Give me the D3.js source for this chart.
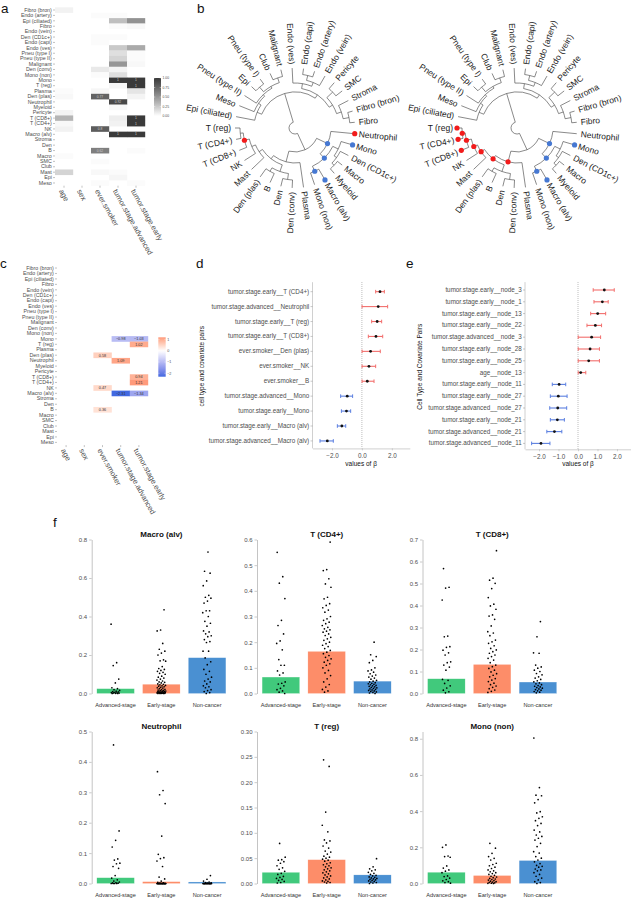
<!DOCTYPE html>
<html>
<head>
<meta charset="utf-8">
<script src="https://cdn.jsdelivr.net/npm/d3@7/dist/d3.min.js"></script>
<style>
  html,body{margin:0;padding:0;background:#fff;}
  svg text{font-family:"Liberation Sans",Arial,Helvetica,sans-serif;}
</style>
</head>
<body>
<svg id="fig" width="631" height="899" xmlns="http://www.w3.org/2000/svg"></svg>
<script>
// ================= DATA =================
const cellTypes = ["Fibro (bron)","Endo (artery)","Epi (ciliated)","Fibro","Endo (vein)","Den (CD1c+)","Endo (capi)","Endo (ves)","Pneu (type I)","Pneu (type II)","Malignant","Den (conv)","Mono (non)","Mono","T (reg)","Plasma","Den (plas)","Neutrophil","Myeloid","Pericyte","T (CD8+)","T (CD4+)","NK","Macro (alv)","Stroma","Den","B","Macro","SMC","Club","Mast","Epi","Meso"];
const covariates = ["age","sex","ever.smoker","tumor.stage.advanced","tumor.stage.early"];

// panel a: inclusion probabilities per covariate (one value per cell type, in cellTypes order)
const pipAge      = [0.06,0,0,0,0,0,0,0,0,0,0,0,0,0,0,0.02,0.03,0,0,0.05,0.35,0.03,0.06,0,0,0,0,0.02,0,0,0.2,0,0];
const pipSex      = [0,0,0,0,0,0,0,0,0,0,0,0,0,0,0,0,0,0,0,0,0,0,0,0,0,0,0,0,0,0,0,0,0];
const pipSmoker   = [0,0.02,0,0,0,0.02,0.02,0,0,0,0,0.1,0.02,0,0,0.04,0.77,0,0,0,0,0,0.8,0,0,0,0.62,0,0.02,0,0.03,0,0.02];
const pipAdvanced = [0,0.02,0.3,0.02,0,0.02,0,0.25,0.15,0.2,0.5,0.05,0.15,1,0.04,0,0,0.92,0.03,0,0.08,0.06,0,1,0,0,0,0,0,0,0.02,0.04,0];
const pipEarly    = [0,0,0.52,0.03,0,0,0,0.4,0.02,0.02,0.03,0,0,1,1,0.12,0.05,0,0,0,1,1,0,1,0,0,0.02,0,0,0,0,0,0.02];
const pipTicks = [0,0.25,0.5,0.75,1];

// panel c: significant effects [cell type, covariate, beta]
const betaCells = [
  ["Mono","tumor.stage.advanced",-0.98],["Mono","tumor.stage.early",-1.03],
  ["T (reg)","tumor.stage.early",1.02],["Den (plas)","ever.smoker",0.58],
  ["Neutrophil","tumor.stage.advanced",1.09],["T (CD8+)","tumor.stage.early",0.94],
  ["T (CD4+)","tumor.stage.early",1.21],["NK","ever.smoker",0.47],
  ["Macro (alv)","tumor.stage.advanced",-2.31],["Macro (alv)","tumor.stage.early",-1.34],
  ["B","ever.smoker",0.36]];
const betaTicks = [-2,-1,0,1];

// panel d
const dLabels = ["tumor.stage.early__T (CD4+)","tumor.stage.advanced__Neutrophil","tumor.stage.early__T (reg)","tumor.stage.early__T (CD8+)","ever.smoker__Den (plas)","ever.smoker__NK","ever.smoker__B","tumor.stage.advanced__Mono","tumor.stage.early__Mono","tumor.stage.early__Macro (alv)","tumor.stage.advanced__Macro (alv)"];
const dEst  = [1.21,1.09,1.02,0.94,0.58,0.47,0.36,-0.98,-1.03,-1.34,-2.31];
const dLow  = [0.92,0.01,0.65,0.43,0.01,0.01,0.01,-1.42,-1.37,-1.64,-2.8];
const dHigh = [1.5,1.72,1.32,1.39,1.23,0.92,0.81,-0.62,-0.75,-1.08,-1.91];
const dTicks = [-2,0,2];

// panel e
const eLabels = ["tumor.stage.early__node_3","tumor.stage.early__node_1","tumor.stage.early__node_13","tumor.stage.early__node_22","tumor.stage.advanced__node_3","tumor.stage.early__node_28","tumor.stage.early__node_25","age__node_13","tumor.stage.early__node_11","tumor.stage.early__node_27","tumor.stage.advanced__node_27","tumor.stage.early__node_21","tumor.stage.advanced__node_21","tumor.stage.advanced__node_11"];
const eEst  = [1.35,1.25,1.01,0.89,0.70,0.62,0.55,0.14,-0.97,-1.01,-1.04,-1.06,-1.21,-1.9];
const eLow  = [0.78,0.82,0.65,0.46,0.01,0.01,0.01,0.01,-1.32,-1.42,-1.45,-1.42,-1.6,-2.38];
const eHigh = [1.86,1.55,1.42,1.21,1.16,1.1,1.1,0.4,-0.63,-0.56,-0.58,-0.7,-0.83,-1.44];
const eTicks = [-2,-1,0,1,2];

// panel b: dendrogram (h = merge height, tips = 0)
const treeData = {name:"root", h:1.0, children:[
  {name:"immune", h:0.667, children:[
    {name:"nP", h:0.444, children:[
      {name:"Neutrophil"},
      {name:"nQ", h:0.333, children:[
        {name:"nZ", h:0.222, children:[
          {name:"Mono"},
          {name:"nZ2", h:0.167, children:[
            {name:"Den (CD1c+)"},
            {name:"nZ3", h:0.111, children:[{name:"Macro"},{name:"Myeloid"}]}]}]},
        {name:"nR", h:0.231, children:[{name:"Macro (alv)"},{name:"Mono (non)"}]}]}]},
    {name:"nA", h:0.463, children:[
      {name:"Plasma"},
      {name:"nB", h:0.389, children:[
        {name:"nY", h:0.259, children:[
          {name:"nY1", h:0.148, children:[{name:"Den (conv)"},{name:"Den"}]},
          {name:"nY2", h:0.185, children:[{name:"B"},{name:"Den (plas)"}]}]},
        {name:"nC", h:0.315, children:[
          {name:"Mast"},
          {name:"nD", h:0.241, children:[
            {name:"NK"},
            {name:"nE", h:0.148, children:[
              {name:"T (CD8+)"},
              {name:"nF", h:0.093, children:[{name:"T (CD4+)"},{name:"T (reg)"}]}]}]}]}]}]}]},
  {name:"nonimmune", h:0.444, children:[
    {name:"epi", h:0.352, children:[
      {name:"Epi (ciliated)"},
      {name:"nEG1", h:0.296, children:[
        {name:"Meso"},
        {name:"nEG2", h:0.259, children:[
          {name:"Pneu (type II)"},
          {name:"nEG3", h:0.222, children:[
            {name:"nEG4", h:0.111, children:[{name:"Epi"},{name:"Pneu (type I)"}]},
            {name:"nEG5", h:0.13, children:[{name:"Club"},{name:"Malignant"}]}]}]}]}]},
    {name:"endostroma", h:0.37, children:[
      {name:"nEndo", h:0.278, children:[
        {name:"Endo (ves)"},
        {name:"nEN1", h:0.204, children:[
          {name:"nEN2", h:0.111, children:[{name:"Endo (capi)"},{name:"Endo (artery)"}]},
          {name:"Endo (vein)"}]}]},
      {name:"nStrom", h:0.296, children:[
        {name:"nST1", h:0.148, children:[{name:"Pericyte"},{name:"SMC"}]},
        {name:"nST2", h:0.204, children:[
          {name:"Stroma"},
          {name:"nST3", h:0.093, children:[{name:"Fibro (bron)"},{name:"Fibro"}]}]}]}]}]}]};
const leftRedNodes   = ["Neutrophil","nE"];
const leftBlueNodes  = ["nP","Mono","nQ","nR","Macro (alv)"];
const rightRedNodes  = ["T (reg)","T (CD4+)","T (CD8+)","nF","nE","nD","nC","nB","nA"];
const rightBlueNodes = ["nP","Mono","nQ","nR","Macro (alv)"];

// panel f
const fGroups = ["Advanced-stage","Early-stage","Non-cancer"];
const fTitles = ["Macro (alv)","T (CD4+)","T (CD8+)","Neutrophil","T (reg)","Mono (non)"];
const fYMax  = [0.8,0.6,0.7,0.5,0.3,0.84];
const fYStep = [0.2,0.1,0.1,0.1,0.05,0.2];
const fMeans = [[0.025,0.048,0.186],[0.064,0.164,0.048],[0.067,0.132,0.052],[0.019,0.006,0.005],[0.022,0.047,0.017],[0.062,0.044,0.127]];
const ptsMacroAlv = [
  [0.36,0.16,0.145,0.075,0.055,0.03,0.025,0.02,0.016,0.012,0.01,0.008,0.006,0.005,0.004,0.003,0.002,0.001,0,0],
  [0.435,0.33,0.325,0.26,0.23,0.22,0.21,0.2,0.175,0.17,0.168,0.14,0.13,0.125,0.12,0.115,0.11,0.105,0.1,0.09,0.085,0.08,0.075,0.07,0.065,0.06,0.058,0.055,0.05,0.048,0.045,0.042,0.04,0.038,0.035,0.032,0.03,0.028,0.025,0.022,0.02,0.018,0.016,0.015,0.013,0.012,0.011,0.01,0.009,0.008,0.007,0.006,0.005,0.005,0.004,0.004,0.003,0.003,0.002,0.002,0.001,0.001,0,0,0],
  [0.735,0.635,0.625,0.585,0.56,0.51,0.5,0.495,0.48,0.47,0.43,0.43,0.42,0.4,0.375,0.365,0.35,0.325,0.32,0.31,0.3,0.295,0.28,0.27,0.265,0.22,0.22,0.185,0.165,0.15,0.125,0.115,0.1,0.085,0.075,0.065,0.06,0.05,0.04,0.035,0.03,0.02,0.015,0.01,0.005,0]];
const ptsTCD4 = [
  [0.55,0.455,0.43,0.37,0.285,0.265,0.232,0.205,0.195,0.17,0.132,0.11,0.11,0.088,0.08,0.072,0.045,0.04,0.037,0.03,0.02,0.015,0.01,0.005,0],
  [0.59,0.483,0.479,0.447,0.427,0.414,0.375,0.369,0.35,0.343,0.334,0.325,0.317,0.3,0.291,0.285,0.278,0.272,0.265,0.258,0.252,0.248,0.243,0.239,0.232,0.226,0.219,0.213,0.207,0.2,0.194,0.188,0.183,0.175,0.168,0.161,0.155,0.148,0.141,0.135,0.129,0.122,0.116,0.11,0.1,0.09,0.08,0.07,0.057,0.045,0.035,0.025,0.016,0.01,0.005],
  [0.2,0.151,0.144,0.129,0.12,0.1,0.092,0.088,0.083,0.077,0.072,0.068,0.064,0.06,0.056,0.051,0.048,0.045,0.042,0.04,0.038,0.036,0.034,0.032,0.03,0.028,0.026,0.024,0.022,0.02,0.018,0.016,0.014,0.012,0.01,0.008,0.006,0.004,0.002,0]];
const ptsTCD8 = [
  [0.568,0.483,0.479,0.425,0.261,0.258,0.213,0.21,0.197,0.185,0.175,0.144,0.14,0.129,0.12,0.106,0.064,0.06,0.046,0.035,0.025,0.015,0.008,0.003],
  [0.649,0.524,0.515,0.501,0.477,0.436,0.406,0.398,0.383,0.357,0.352,0.337,0.307,0.281,0.275,0.263,0.243,0.235,0.228,0.217,0.205,0.198,0.19,0.183,0.175,0.168,0.16,0.152,0.14,0.129,0.122,0.114,0.106,0.098,0.09,0.083,0.076,0.068,0.061,0.054,0.047,0.04,0.034,0.028,0.022,0.016,0.01,0.005],
  [0.327,0.258,0.185,0.183,0.129,0.121,0.115,0.106,0.1,0.091,0.085,0.076,0.07,0.064,0.058,0.053,0.048,0.044,0.04,0.036,0.033,0.03,0.027,0.024,0.021,0.018,0.015,0.012,0.009,0.006,0.003]];
const ptsNeutrophil = [
  [0.456,0.173,0.142,0.12,0.081,0.077,0.067,0.065,0.056,0.05,0.026,0.018,0.012,0.008,0.005,0.003,0.002,0.001,0,0,0,0],
  [0.368,0.306,0.292,0.263,0.156,0.096,0.085,0.082,0.074,0.056,0.021,0.015,0.008,0.004,0.002,0.001,0,0,0,0,0,0,0,0,0,0,0,0,0,0,0,0,0,0,0,0,0,0,0,0,0,0,0,0,0,0],
  [0.026,0.014,0.008,0.005,0.003,0.002,0.001,0,0,0,0,0,0,0,0,0,0,0,0,0,0,0,0,0,0,0,0,0,0,0]];
const ptsTreg = [
  [0.079,0.052,0.047,0.046,0.043,0.04,0.035,0.031,0.028,0.024,0.02,0.018,0.014,0.012,0.01,0.008,0.006,0.004,0.002,0.001],
  [0.244,0.231,0.141,0.115,0.102,0.086,0.084,0.08,0.074,0.07,0.064,0.062,0.058,0.054,0.052,0.05,0.048,0.046,0.044,0.041,0.039,0.037,0.035,0.033,0.031,0.029,0.027,0.025,0.023,0.021,0.019,0.017,0.015,0.013,0.011,0.009,0.007,0.005,0.004,0.003,0.002,0.001],
  [0.049,0.033,0.029,0.027,0.025,0.022,0.02,0.018,0.016,0.015,0.013,0.012,0.011,0.01,0.009,0.008,0.007,0.006,0.005,0.004,0.003,0.002,0.001,0]];
const ptsMonoNon = [
  [0.213,0.2,0.152,0.149,0.145,0.097,0.085,0.075,0.068,0.06,0.042,0.038,0.03,0.022,0.015,0.01,0.005,0.002],
  [0.222,0.195,0.167,0.149,0.139,0.13,0.112,0.105,0.098,0.09,0.083,0.075,0.07,0.065,0.06,0.055,0.05,0.045,0.04,0.036,0.032,0.028,0.025,0.022,0.019,0.016,0.013,0.01,0.008,0.006,0.004,0.002,0.001,0],
  [0.804,0.53,0.488,0.485,0.464,0.446,0.397,0.39,0.369,0.36,0.347,0.332,0.32,0.295,0.285,0.268,0.26,0.25,0.24,0.222,0.204,0.176,0.168,0.149,0.14,0.13,0.12,0.11,0.1,0.095,0.09,0.08,0.075,0.07,0.06,0.05,0.04,0.03,0.02,0.01,0.005,0]];
const fPoints = [ptsMacroAlv, ptsTCD4, ptsTCD8, ptsNeutrophil, ptsTreg, ptsMonoNon];

// ================= DRAWING =================
const svg = d3.select("#fig");
const TXT = "#4d4d4d";
const RED = "#f26e6c", BLUE = "#5b7fe0";
const DOT_RED = "#f21b1b", DOT_BLUE = "#4678d2";

function letter(t, x, y){
  svg.append("text").attr("x",x).attr("y",y).attr("font-size",13.5).attr("fill","#111").text(t);
}
letter("a",1,12.5); letter("b",197,12.5); letter("c",0,268); letter("d",196,268); letter("e",406,268); letter("f",53,527);

// ---------- heatmap helper ----------
function heatmap(o){
  const g = svg.append("g");
  const x = d3.scaleBand().domain(covariates).range([o.x0,o.x1]);
  const y = d3.scaleBand().domain(cellTypes).range([o.y0,o.y1]);
  const cells = o.cells.filter(c => c.v != null && c.v !== 0);
  g.selectAll("rect.cell").data(cells).join("rect").attr("class","cell")
    .attr("x",d=>x(d.cov)).attr("y",d=>y(d.cell))
    .attr("width",x.bandwidth()+0.2).attr("height",y.bandwidth()+0.2)
    .attr("fill",d=>o.color(d.v));
  g.selectAll("text.cl").data(cells.filter(o.labelIf)).join("text").attr("class","cl")
    .attr("x",d=>x(d.cov)+x.bandwidth()/2).attr("y",d=>y(d.cell)+y.bandwidth()/2)
    .attr("dy","0.35em").attr("text-anchor","middle")
    .attr("font-size",o.labelSize).attr("fill",o.labelColor).text(o.labelFmt);
  const ay = g.append("g").attr("transform",`translate(${o.x0},0)`)
    .call(d3.axisLeft(y).tickSize(2).tickPadding(1.2));
  ay.select(".domain").remove();
  ay.selectAll("line").attr("stroke","#666").attr("stroke-width",0.4);
  ay.selectAll("text").attr("font-size",5.3).attr("fill",TXT);
  const ax = g.append("g").attr("transform",`translate(0,${o.y1})`)
    .call(d3.axisBottom(x).tickSize(2));
  ax.select(".domain").remove();
  ax.selectAll("line").attr("stroke","#666").attr("stroke-width",0.4);
  ax.selectAll("text").attr("x",0).attr("y",0).attr("dy","0.35em")
    .attr("transform","translate(-3,4) rotate(61)").style("text-anchor","start")
    .attr("font-size",7.5).attr("fill",TXT);
}

function legendBar(o){
  const id = "grad"+o.id;
  const grad = svg.append("defs").append("linearGradient").attr("id",id)
    .attr("x1",0).attr("y1",1).attr("x2",0).attr("y2",0);
  const n = 24;
  d3.range(n+1).forEach(i=>{
    const v = o.domain[0] + (o.domain[1]-o.domain[0])*i/n;
    grad.append("stop").attr("offset",i/n).attr("stop-color",o.color(v));
  });
  const s = d3.scaleLinear().domain(o.domain).range([o.y1,o.y0]);
  svg.append("rect").attr("x",o.x).attr("y",o.y0).attr("width",o.w).attr("height",o.y1-o.y0).attr("fill",`url(#${id})`);
  svg.append("g").selectAll("text").data(o.ticks).join("text")
    .attr("x",o.x+o.w+1.5).attr("y",d=>s(d)).attr("dy","0.35em")
    .attr("font-size",o.fs).attr("fill",TXT).text(o.fmt);
  svg.append("g").selectAll("line").data(o.ticks).join("line")
    .attr("x1",o.x).attr("x2",o.x+1.3).attr("y1",d=>s(d)).attr("y2",d=>s(d))
    .attr("stroke","#fff").attr("stroke-width",0.4);
  svg.append("g").selectAll("line").data(o.ticks).join("line")
    .attr("x1",o.x+o.w-1.3).attr("x2",o.x+o.w).attr("y1",d=>s(d)).attr("y2",d=>s(d))
    .attr("stroke","#fff").attr("stroke-width",0.4);
}

// ---------- panel a ----------
const pipCols = [pipAge,pipSex,pipSmoker,pipAdvanced,pipEarly];
const cellsA = cellTypes.flatMap((c,i)=>covariates.map((cov,j)=>({cell:c,cov,v:pipCols[j][i]})));
const grayScale = d3.scaleLinear().domain([0,1]).range(["#ffffff","#3a3a3a"]).interpolate(d3.interpolateLab);
heatmap({x0:55,x1:145,y0:7.3,y1:185.7,cells:cellsA,color:grayScale,
  labelIf:d=>d.v>=0.6,labelFmt:d=>String(d.v),labelColor:"#c9c9c9",labelSize:3.3});
legendBar({id:"a",x:154,w:7,y0:78,y1:116,domain:[0,1],color:grayScale,ticks:pipTicks,fmt:d3.format(".2f"),fs:3.4});

// ---------- panel c ----------
const cellsC = betaCells.map(([cell,cov,v])=>({cell,cov,v}));
const maxAbs = d3.max(cellsC,d=>Math.abs(d.v));
const divColor = v => v<0 ? d3.interpolateLab("#ffffff","#4169e1")(Math.min(1,-v/maxAbs))
                           : d3.interpolateLab("#ffffff","#ff0000")(Math.min(1,v/maxAbs));
heatmap({x0:57,x1:148,y0:265.3,y1:445.1,cells:cellsC,color:divColor,
  labelIf:()=>true,labelFmt:d=>d3.format(".2f")(d.v),labelColor:"#333",labelSize:3.8});
legendBar({id:"c",x:158.3,w:7.4,y0:337.3,y1:376.7,domain:[d3.min(cellsC,d=>d.v),d3.max(cellsC,d=>d.v)],
  color:divColor,ticks:betaTicks,fmt:d3.format("d"),fs:3.7});

// ---------- panel b ----------
function drawTree(cx, cy, redNodes, blueNodes){
  const root = d3.hierarchy(treeData);
  d3.cluster().size([360,1]).separation(()=>1)(root);
  const rS = d3.scaleLinear().domain([1,0]).range([6,60]);
  const rad = d => rS(d.data.h || 0);
  const pt = (r,a) => [cx + r*Math.cos(a*Math.PI/180), cy + r*Math.sin(a*Math.PI/180)];
  const g = svg.append("g");
  g.selectAll("path").data(root.links()).join("path")
    .attr("d", l=>{
      const p=l.source, c=l.target, r0=rad(p), r1=rad(c);
      const a=pt(r0,p.x), b=pt(r0,c.x), e=pt(r1,c.x);
      const sweep = c.x>p.x?1:0, large = Math.abs(c.x-p.x)>180?1:0;
      return `M${a[0]},${a[1]}A${r0},${r0} 0 ${large} ${sweep} ${b[0]},${b[1]}L${e[0]},${e[1]}`;
    })
    .attr("fill","none").attr("stroke","#3a3a3a").attr("stroke-width",0.6);
  g.selectAll("text").data(root.leaves()).join("text")
    .attr("transform", d=>{
      const [x,y]=pt(64,d.x);
      const flip = d.x>90 && d.x<270;
      return `translate(${x},${y}) rotate(${flip?d.x-180:d.x})`;
    })
    .attr("text-anchor", d=> (d.x>90&&d.x<270)?"end":"start")
    .attr("dy","0.35em").attr("font-size",8.5).attr("fill","#1a1a1a").text(d=>d.data.name);
  const all = root.descendants();
  const dots = [...redNodes.map(n=>({n,c:DOT_RED})),...blueNodes.map(n=>({n,c:DOT_BLUE}))];
  g.selectAll("circle").data(dots).join("circle")
    .attr("cx", d=>{const nd=all.find(a=>a.data.name===d.n); return pt(rad(nd),nd.x)[0];})
    .attr("cy", d=>{const nd=all.find(a=>a.data.name===d.n); return pt(rad(nd),nd.x)[1];})
    .attr("r",2.6).attr("fill",d=>d.c);
}
drawTree(295,128,leftRedNodes,leftBlueNodes);
drawTree(517,128,rightRedNodes,rightBlueNodes);

// ---------- panels d, e ----------
function forest(o){
  const g = svg.append("g");
  const x = d3.scaleLinear().domain(o.domain).range([o.x0,o.x1]);
  const y = d3.scaleBand().domain(o.labels).range([o.y0,o.y1]);
  const rows = o.labels.map((l,i)=>({l,e:o.est[i],lo:o.low[i],hi:o.high[i]}));
  const cy = d => y(d.l)+y.bandwidth()/2;
  const col = d => d.e>=0?RED:BLUE;
  g.append("line").attr("x1",x(0)).attr("x2",x(0)).attr("y1",o.y0-2).attr("y2",o.y1)
    .attr("stroke","#777").attr("stroke-width",0.6).attr("stroke-dasharray","0.8,1.2");
  const ay = g.append("g").attr("transform",`translate(${o.x0},0)`)
    .call(d3.axisLeft(y).tickSize(2).tickPadding(1.3).tickSizeOuter(0));
  ay.select(".domain").attr("stroke","#c4c4c4").attr("stroke-width",0.8)
    .attr("d",`M0,${o.y0-2}V${o.y1}`);
  ay.selectAll("line").attr("stroke","#777").attr("stroke-width",0.4);
  ay.selectAll("text").attr("font-size",o.fs).attr("fill",TXT);
  const ax = g.append("g").attr("transform",`translate(0,${o.y1})`)
    .call(d3.axisBottom(x).tickValues(o.ticks).tickSize(2).tickSizeOuter(0));
  ax.select(".domain").attr("stroke","#c4c4c4").attr("stroke-width",0.8);
  ax.selectAll("line").attr("stroke","#999").attr("stroke-width",0.4);
  ax.selectAll("text").attr("font-size",6.3).attr("fill",TXT);
  g.selectAll("line.ci").data(rows).join("line").attr("class","ci")
    .attr("x1",d=>x(d.lo)).attr("x2",d=>x(d.hi)).attr("y1",cy).attr("y2",cy)
    .attr("stroke",col).attr("stroke-width",1.1);
  g.selectAll("line.capl").data(rows).join("line").attr("class","capl")
    .attr("x1",d=>x(d.lo)).attr("x2",d=>x(d.lo)).attr("y1",d=>cy(d)-1.8).attr("y2",d=>cy(d)+1.8)
    .attr("stroke",col).attr("stroke-width",1);
  g.selectAll("line.caph").data(rows).join("line").attr("class","caph")
    .attr("x1",d=>x(d.hi)).attr("x2",d=>x(d.hi)).attr("y1",d=>cy(d)-1.8).attr("y2",d=>cy(d)+1.8)
    .attr("stroke",col).attr("stroke-width",1);
  g.selectAll("circle").data(rows).join("circle")
    .attr("cx",d=>x(d.e)).attr("cy",cy).attr("r",1.4).attr("fill","#111");
  g.append("text").attr("x",(o.x0+o.x1)/2).attr("y",465.5).attr("text-anchor","middle")
    .attr("font-size",6.5).attr("fill","#111").text("values of β");
  g.append("text").attr("transform",`translate(${o.titleX},${(o.y0+o.y1)/2}) rotate(-90)`)
    .attr("text-anchor","middle").attr("font-size",6.5).attr("fill","#111").text(o.title);
}
forest({labels:dLabels,est:dEst,low:dLow,high:dHigh,domain:[-3.3,3.2],x0:312.5,x1:409.8,
  y0:284.2,y1:448.4,ticks:dTicks,fs:6.3,title:"cell type and covariate pairs",titleX:203.5});
forest({labels:eLabels,est:eEst,low:eLow,high:eHigh,domain:[-2.72,2.72],x0:525,x1:631,
  y0:284.1,y1:449.3,ticks:eTicks,fs:6.3,title:"Cell Type and Covariate Pairs",titleX:422});

// ---------- panel f ----------
const fColors = ["#41c97c","#fd8d69","#4a90d2"];
const axisXs = [91.7,257,422.5];
const rowsY = [[539.5,693.5],[731.5,883.5]];
const jit = k => (((k*0.6180339887)%1)-0.5)*9;
fTitles.forEach((title,i)=>{
  const ax0 = axisXs[i%3], [yt,yb] = rowsY[Math.floor(i/3)];
  const g = svg.append("g");
  const x = d3.scaleBand().domain(fGroups).range([ax0+1,ax0+138.3]).paddingInner(0.18).paddingOuter(0.09);
  const y = d3.scaleLinear().domain([0,fYMax[i]]).range([yb,yt]);
  g.selectAll("rect").data(fGroups).join("rect")
    .attr("x",d=>x(d)).attr("width",x.bandwidth())
    .attr("y",(d,j)=>y(fMeans[i][j])).attr("height",(d,j)=>y(0)-y(fMeans[i][j]))
    .attr("fill",(d,j)=>fColors[j]).attr("stroke","#fff").attr("stroke-opacity",0.5).attr("stroke-width",0.4);
  fGroups.forEach((grp,j)=>{
    const cxm = x(grp)+x.bandwidth()/2;
    g.append("g").selectAll("circle").data(fPoints[i][j]).join("circle")
      .attr("cx",(v,k)=>cxm+jit(k+j*11+i*5)).attr("cy",v=>y(v)).attr("r",0.85).attr("fill","#000");
  });
  const step = fYStep[i];
  const ticks = d3.range(0, fYMax[i]+1e-9, step).filter(t=>t<=fYMax[i]+1e-9).map(t=>+t.toFixed(3));
  const ay = g.append("g").attr("transform",`translate(${ax0},0)`)
    .call(d3.axisLeft(y).tickValues(ticks).tickFormat(d3.format(step<0.1?".2f":".1f")).tickSize(2.5).tickSizeOuter(0).tickPadding(2));
  ay.select(".domain").attr("stroke","#bdbdbd").attr("stroke-width",0.9);
  ay.selectAll("line").attr("stroke","#bdbdbd").attr("stroke-width",0.8);
  ay.selectAll("text").attr("font-size",6).attr("fill",TXT);
  g.selectAll("text.gl").data(fGroups).join("text").attr("class","gl")
    .attr("x",d=>x(d)+x.bandwidth()/2).attr("y",yb+13).attr("text-anchor","middle")
    .attr("font-size",5.6).attr("fill","#333").text(d=>d);
  g.append("text").attr("x",ax0+69.7).attr("y",yt-3).attr("text-anchor","middle")
    .attr("font-size",8).attr("font-weight","bold").attr("fill","#111").text(title);
});
</script>
</body>
</html>
